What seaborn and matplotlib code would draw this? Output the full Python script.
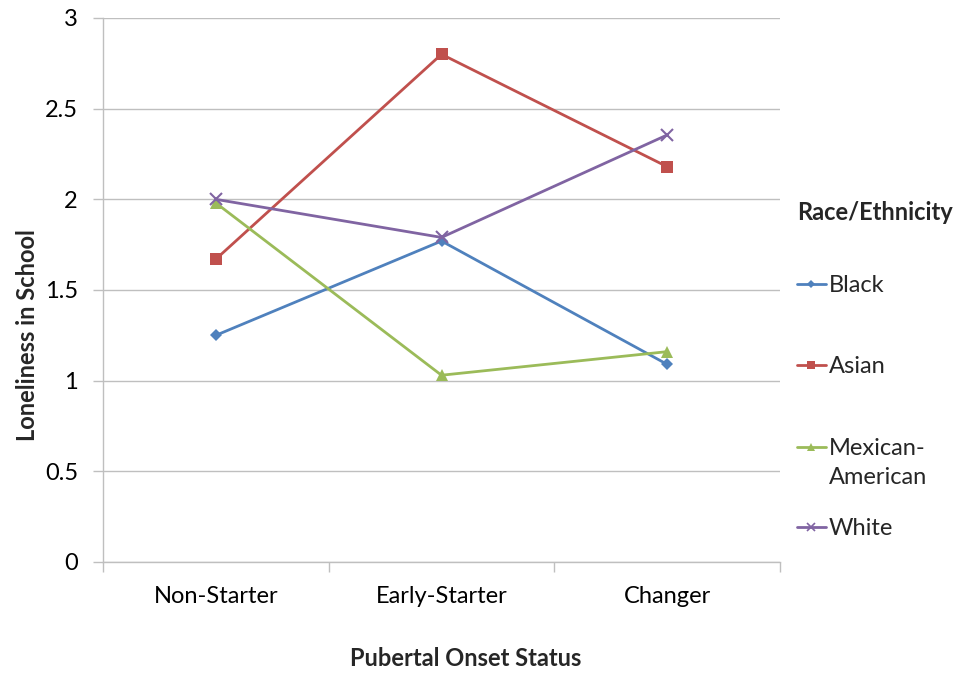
import matplotlib
matplotlib.use("Agg")
import matplotlib.pyplot as plt
from matplotlib.lines import Line2D
from matplotlib.ticker import FixedLocator, FuncFormatter
import seaborn as sns
import pandas as pd

# Mean loneliness score by pubertal onset group and race/ethnicity
categories = ["Non-Starter", "Early-Starter", "Changer"]
groups = ["Black", "Asian", "Mexican-American", "White"]
black = [1.25, 1.77, 1.09]
asian = [1.67, 2.80, 2.18]
mexican_american = [1.98, 1.03, 1.16]
white = [2.00, 1.79, 2.355]
y_ticks = [0, 0.5, 1, 1.5, 2, 2.5, 3]
legend_labels = ["Black", "Asian", "Mexican-\nAmerican", "White"]

series = dict(zip(groups, [black, asian, mexican_american, white]))
df = pd.DataFrame(
    [(cat, g, v) for g in groups for cat, v in zip(categories, series[g])],
    columns=["status", "group", "value"],
)

colors = {"Black": "#4F81BD", "Asian": "#C0504D",
          "Mexican-American": "#9BBB59", "White": "#8064A2"}
markers = {"Black": "D", "Asian": "s", "Mexican-American": "^", "White": "x"}
msizes = {"Black": 6, "Asian": 8, "Mexican-American": 8, "White": 8}

sns.set_theme(style="white")
plt.rcParams["font.family"] = ["Lato", "DejaVu Sans"]

W, H = 954, 673
fig = plt.figure(figsize=(W / 100, H / 100), dpi=100)
ax = fig.add_axes([103 / W, 1 - 562 / H, (780 - 103) / W, (562 - 18) / H])

# one line per group so filled and line-art markers can coexist
for g in groups:
    sub = df[df["group"] == g]
    sns.lineplot(data=sub, x="status", y="value", color=colors[g],
                 marker=markers[g], markersize=msizes[g], linewidth=2,
                 markeredgewidth=1.5 if g == "White" else 0,
                 markeredgecolor=colors[g], sort=False, ax=ax)

ax.set_xlim(-0.5, 2.5)
ax.set_ylim(0, 3)
ax.yaxis.set_major_locator(FixedLocator(y_ticks))
ax.yaxis.set_major_formatter(FuncFormatter(lambda v, _: f"{v:g}"))
ax.grid(axis="y", color="#BFBFBF", linewidth=1)
ax.grid(axis="x", visible=False)
ax.set_axisbelow(True)

for s in ["top", "right"]:
    ax.spines[s].set_visible(False)
for s in ["left", "bottom"]:
    ax.spines[s].set_color("#BFBFBF")
    ax.spines[s].set_linewidth(1)

ax.set_xticks(range(len(categories)))
ax.set_xticklabels(categories)
ax.set_xticks([-0.5, 0.5, 1.5, 2.5], minor=True)
ax.tick_params(axis="x", which="major", length=0, pad=17, labelsize=17, colors="#000000")
ax.tick_params(axis="x", which="minor", length=7, width=1, color="#BFBFBF", direction="out", bottom=True)
ax.tick_params(axis="y", which="major", length=7, width=1, color="#BFBFBF", direction="out",
               pad=11, labelsize=17, left=True, labelcolor="#000000")

ax.set_xlabel("")
ax.set_ylabel("")
fig.text(466 / W, 1 - 659 / H, "Pubertal Onset Status", fontsize=17,
         fontweight="bold", ha="center", va="center")
fig.text(28 / W, 1 - 335 / H, "Loneliness in School", fontsize=17,
         fontweight="bold", ha="center", va="center", rotation=90)

# legend: title followed by one handle + label per group
fig.text(797 / W, 1 - 213 / H, "Race/Ethnicity", fontsize=17, fontweight="bold",
         ha="left", va="center")
entry_y = [284, 365, 447, 527]
for g, lab, y in zip(groups, legend_labels, entry_y):
    yf = 1 - y / H
    fig.add_artist(Line2D([797 / W, 826 / W], [yf, yf], color=colors[g],
                          linewidth=2, transform=fig.transFigure))
    fig.add_artist(Line2D([811.5 / W], [yf], color=colors[g], marker=markers[g],
                          markersize=msizes[g] * 0.7,
                          markeredgewidth=1.2 if g == "White" else 0,
                          markeredgecolor=colors[g], linestyle="none",
                          transform=fig.transFigure))
    fig.text(829 / W, yf + 9 / H, lab, fontsize=17, ha="left", va="top",
             linespacing=1.5)

fig.savefig("out.png", dpi=100)
